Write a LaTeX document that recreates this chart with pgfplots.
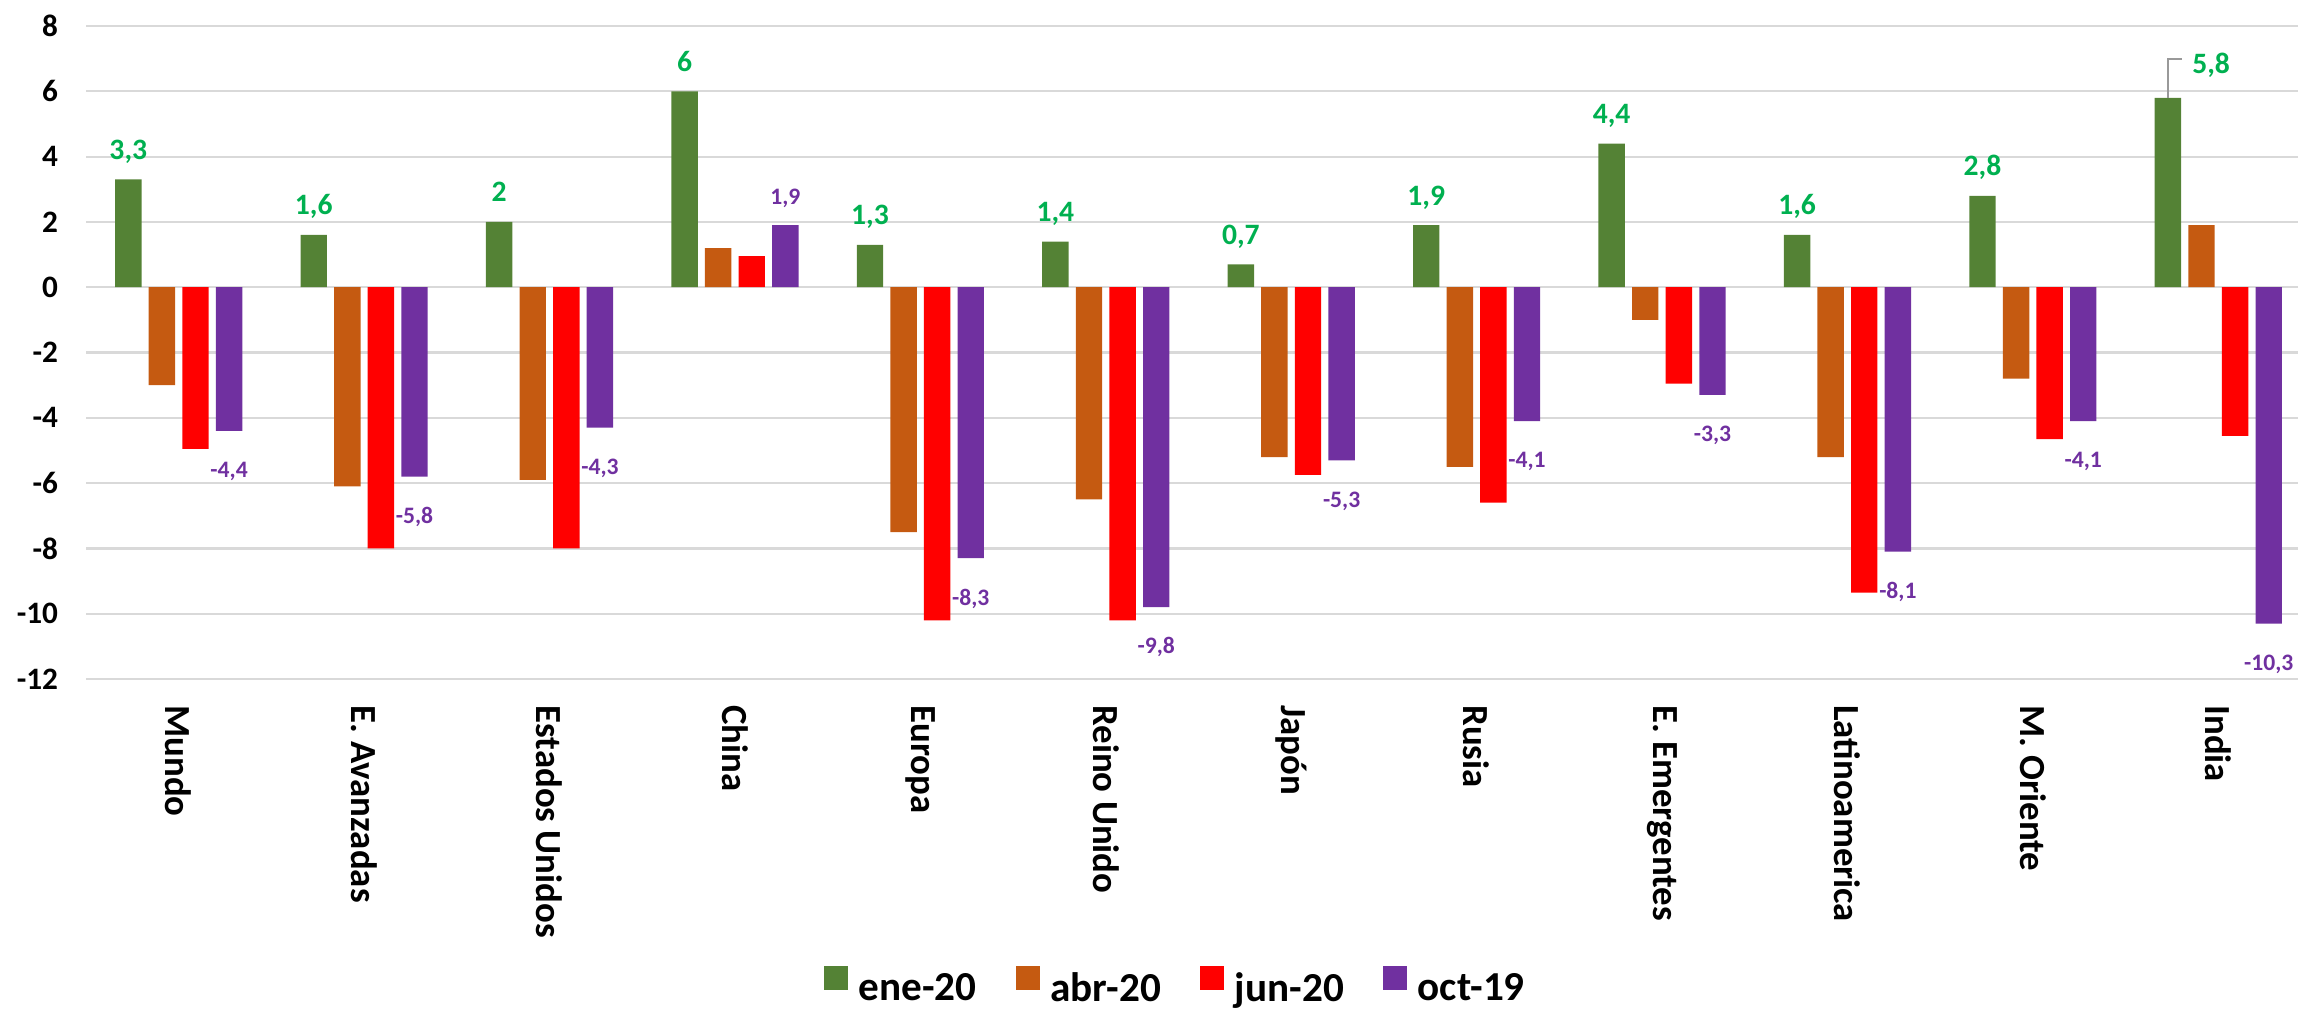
\documentclass[border=0pt]{standalone}
\usepackage{fontspec}
\setmainfont{Carlito}
\usepackage{pgfplots}
\pgfplotsset{compat=1.18}
\definecolor{cgreen}{HTML}{548235}
\definecolor{corange}{HTML}{C55A11}
\definecolor{cred}{HTML}{FF0000}
\definecolor{cpurple}{HTML}{7030A0}
\definecolor{lgreen}{HTML}{00B050}
\definecolor{gridc}{HTML}{D9D9D9}
\begin{document}
\begin{tikzpicture}
\path[use as bounding box] (-21.5pt,-83pt) rectangle (553pt,169.75pt);
\begin{axis}[
  at={(0pt,0pt)}, anchor=south west,
  scale only axis, width=553pt, height=163.25pt,
  xmin=-0.5, xmax=11.43, ymin=-12, ymax=8,
  ytick={-12,-10,...,8},
  xtick={0,1,...,11},
  xticklabels={Mundo, E. Avanzadas, Estados Unidos, China, Europa, Reino Unido, Japón, Rusia, E. Emergentes, Latinoamerica, M. Oriente, India},
  axis line style={draw=none},
  major tick length=0pt,
  ymajorgrids, grid style={color=gridc, line width=0.55pt},
  /pgf/number format/use comma,
  /pgf/number format/assume math mode=true,
  yticklabel style={font=\fontsize{7.8}{9}\selectfont\bfseries, inner sep=0pt, anchor=east},
  yticklabel shift=6.8pt,
  xticklabel style={font=\fontsize{9.2}{11}\selectfont\bfseries, rotate=-90, anchor=west, inner sep=0pt},
  xticklabel shift=6.4pt,
  ybar=1.8pt, bar width=6.6pt,
  legend image code/.code={\fill[#1] (0pt,0pt) rectangle (6pt,6pt);},
  legend columns=4,
  legend style={draw=none, fill=none, at={(0.492,-0.471)}, anchor=center,
    font=\fontsize{10.3}{12}\selectfont\bfseries,
    nodes={inner sep=0pt},
    /tikz/every odd column/.append style={column sep=2.7pt},
    /tikz/every even column/.append style={column sep=9.75pt}},
]
\addplot[fill=cgreen, draw=none, point meta=explicit symbolic, nodes near coords,
  every node near coord/.append style={font=\fontsize{7.4}{9}\selectfont\bfseries, text=lgreen, inner xsep=0pt, inner ysep=4.8pt, text depth=0pt, text height=0.65em}]
  coordinates {(0,3.3) [3,3] (1,1.6) [1,6] (2,2) [2] (3,6) [6] (4,1.3) [1,3] (5,1.4) [1,4]
   (6,0.7) [0,7] (7,1.9) [1,9] (8,4.4) [4,4] (9,1.6) [1,6] (10,2.8) [2,8] (11,5.8) []};
\addlegendentry{ene-20}
\addplot[fill=corange, draw=none]
  coordinates {(0,-3.0) (1,-6.1) (2,-5.9) (3,1.2) (4,-7.5) (5,-6.5)
   (6,-5.2) (7,-5.5) (8,-1.0) (9,-5.2) (10,-2.8) (11,1.9)};
\addlegendentry{abr-20}
\addplot[fill=cred, draw=none]
  coordinates {(0,-4.95) (1,-8.0) (2,-8.0) (3,0.95) (4,-10.2) (5,-10.2)
   (6,-5.75) (7,-6.6) (8,-2.95) (9,-9.35) (10,-4.65) (11,-4.55)};
\addlegendentry{jun-20}
\addplot[fill=cpurple, draw=none, nodes near coords,
  every node near coord/.append style={font=\fontsize{5.9}{7}\selectfont\bfseries, text=cpurple, inner xsep=0pt, inner ysep=5pt, text depth=0pt, text height=0.65em}]
  coordinates {(0,-4.4) (1,-5.8) (2,-4.3) (3,1.9) (4,-8.3) (5,-9.8)
   (6,-5.3) (7,-4.1) (8,-3.3) (9,-8.1) (10,-4.1) (11,-10.3)};
\addlegendentry{oct-19}
\draw[color=gray!80, line width=0.5pt] ([xshift=-12.6pt]axis cs:11,5.8) -- ([xshift=-12.6pt]axis cs:11,7.0) -- ([xshift=-9pt]axis cs:11,7.0);
\node[anchor=west, inner sep=0pt, text depth=0pt, text height=0.65em, text=lgreen, font=\fontsize{7.4}{9}\selectfont\bfseries] at ([xshift=-6.7pt]axis cs:11,6.93) {5,8};
\end{axis}
\end{tikzpicture}
\end{document}
